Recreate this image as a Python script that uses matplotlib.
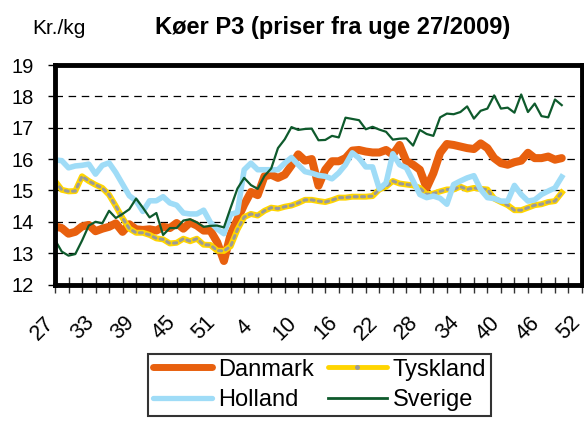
import matplotlib
matplotlib.use("Agg")
import matplotlib.pyplot as plt
from matplotlib.lines import Line2D
from matplotlib.transforms import ScaledTranslation
import numpy as np

plt.rcParams['font.family'] = ['Liberation Sans', 'DejaVu Sans']
plt.rcParams['savefig.bbox'] = 'standard'

# Weeks 27/2009 .. 49/2010 (2009 has 53 weeks); index = weeks since 27/2009
tick_labels = ['27', '33', '39', '45', '51', '4', '10', '16', '22', '28', '34', '40', '46', '52']

danmark = [13.85, 13.8, 13.62, 13.68, 13.85, 13.9, 13.7, 13.78, 13.84, 13.95,
           13.68, 13.92, 13.76, 13.74, 13.76, 13.72, 13.84, 13.8, 13.96, 13.78,
           13.98, 13.88, 13.72, 13.72, 13.35, 12.75, 13.6, 14.08, 14.55, 14.95,
           14.85, 15.45, 15.5, 15.4, 15.5, 15.8, 16.15, 15.95, 16.0, 15.15,
           15.66, 15.93, 15.93, 16.03, 16.27, 16.29, 16.24, 16.21, 16.21, 16.29,
           16.14, 16.45, 15.93, 15.82, 15.66, 15.08, 15.55, 16.2, 16.48, 16.45,
           16.4, 16.35, 16.32, 16.5, 16.35, 16.03, 15.87, 15.82, 15.9, 15.95,
           16.2, 16.03, 16.03, 16.08, 15.98, 16.03]

tyskland = [15.3, 15.02, 14.97, 14.98, 15.45, 15.3, 15.18, 15.08, 14.86, 14.5,
            14.12, 13.78, 13.65, 13.65, 13.58, 13.47, 13.44, 13.31, 13.33, 13.46,
            13.38, 13.46, 13.27, 13.26, 13.08, 13.07, 13.22, 13.75, 14.15, 14.25,
            14.2, 14.35, 14.45, 14.42, 14.48, 14.52, 14.6, 14.7, 14.7, 14.66,
            14.63, 14.69, 14.77, 14.77, 14.8, 14.8, 14.8, 14.82, 15.03, 15.12,
            15.3, 15.22, 15.19, 15.16, 15.08, 14.87, 14.9, 14.97, 15.03, 15.03,
            15.12, 15.03, 15.08, 15.05, 15.03, 14.74, 14.63, 14.53, 14.37, 14.37,
            14.45, 14.53, 14.56, 14.63, 14.66, 14.93]

holland = [15.97, 15.95, 15.72, 15.78, 15.8, 15.84, 15.52, 15.8, 15.88, 15.57,
           15.2, 14.83, 14.67, 14.33, 14.67, 14.67, 14.8, 14.6, 14.53, 14.28,
           14.25, 14.25, 14.37, 13.98, 13.77, 13.62, 14.24, 14.3, 15.66, 15.87,
           15.66, 15.66, 15.66, 15.66, 15.87, 16.05, 15.82, 15.6, 15.55, 15.48,
           15.45, 15.37, 15.56, 15.82, 16.2, 16.03, 15.75, 15.75, 15.05, 15.24,
           16.17, 15.82, 15.72, 15.3, 14.87, 14.77, 14.82, 14.75, 14.56, 15.19,
           15.3, 15.4, 15.47, 15.03, 14.77, 14.74, 14.66, 14.66, 15.16, 14.87,
           14.66, 14.7, 14.87, 14.98, 15.08, 15.43]

sverige = [13.42, 13.05, 12.92, 12.97, 13.4, 13.88, 14.0, 13.95, 14.35, 14.12,
           14.25, 14.4, 14.74, 14.45, 14.14, 14.28, 13.58, 13.8, 13.8, 14.04,
           14.08, 13.98, 13.84, 13.87, 13.88, 13.82, 14.45, 15.06, 15.4, 15.17,
           15.05, 15.46, 15.7, 16.35, 16.63, 17.02, 16.93, 16.96, 16.97, 16.6,
           16.61, 16.74, 16.69, 17.32, 17.28, 17.24, 16.95, 17.03, 16.94, 16.87,
           16.62, 16.65, 16.66, 16.43, 16.93, 16.8, 16.74, 17.33, 17.45, 17.43,
           17.5, 17.68, 17.29, 17.54, 17.61, 18.03, 17.61, 17.64, 17.48, 18.06,
           17.5, 17.77, 17.37, 17.33, 17.9, 17.72]

x = np.arange(len(danmark))

C_DK = '#E8600E'
C_DE = '#FFD500'
C_DOT = '#9A9A9A'
C_NL = '#9FDCF7'
C_SE = '#0E5A2C'

fig = plt.figure(figsize=(5.84, 4.28), dpi=100)
ax = fig.add_axes([55/584, 1-284.5/428, 527/584, (284.5-65)/428])

ax.plot(x, danmark, color=C_DK, lw=5.8, solid_joinstyle='round', solid_capstyle='round', zorder=3)
ax.plot(x, tyskland, color=C_DE, lw=4.3, solid_joinstyle='round', zorder=4)
ax.plot(x, tyskland, color=C_DOT, lw=2.2, linestyle=(0, (1.0, 1.4)),
        dash_capstyle='round', zorder=5)
ax.plot(x, holland, color=C_NL, lw=4.0, solid_joinstyle='round', zorder=6)
ax.plot(x, sverige, color=C_SE, lw=1.6, zorder=7)

ax.set_xlim(0, 78)
ax.set_ylim(12, 19)
ax.set_yticks(range(12, 20))
ax.set_yticklabels([str(v) for v in range(12, 20)], fontsize=14.5)
for v in range(13, 19):
    ax.axhline(v, color='black', lw=0.9, linestyle=(0, (6, 4.5)), zorder=1)

ax.set_xticks(np.arange(0, 79, 6))
ax.set_xticks(np.arange(0, 79, 2), minor=True)
ax.set_xticklabels(tick_labels, fontsize=15.5, rotation=45, ha='center', va='center')
ax.tick_params(axis='x', which='both', direction='inout', length=11, width=1.0,
               color='#333333', pad=0)
ax.tick_params(axis='y', direction='out', length=5, width=1.0, pad=10)
# label centres ~13 px left of the tick and ~43 px below the axis line
offset = ScaledTranslation(-13/100, -36/100, fig.dpi_scale_trans)
for lab in ax.get_xticklabels():
    lab.set_transform(lab.get_transform() + offset)

for s in ax.spines.values():
    s.set_linewidth(3.5)
    s.set_color('black')
    s.set_zorder(10)

fig.text(333/584, 1-34/428, 'Køer P3 (priser fra uge 27/2009)', ha='center',
         va='baseline', fontsize=17, fontweight='bold')
fig.text(32/584, 1-34/428, 'Kr./kg', ha='left', va='baseline', fontsize=15)

h_dk = Line2D([], [], color=C_DK, lw=5.0, solid_capstyle='round')
h_de = (Line2D([], [], color=C_DE, lw=3.5, solid_capstyle='round'),
        Line2D([], [], color=C_DOT, marker='o', markersize=2.5, ls='none'))
h_nl = Line2D([], [], color=C_NL, lw=3.8, solid_capstyle='round')
h_se = Line2D([], [], color=C_SE, lw=2.0)
leg = fig.legend([h_dk, h_nl, h_de, h_se], ['Danmark', 'Holland', 'Tyskland', 'Sverige'],
                 loc='upper left', bbox_to_anchor=(148/584, 1-354/428), ncol=2,
                 fontsize=17, frameon=True, fancybox=False, edgecolor='black',
                 handlelength=2.5, handletextpad=0.25, columnspacing=0.6,
                 labelspacing=0.35, borderpad=0.2, borderaxespad=0)
leg.get_frame().set_linewidth(1.5)

fig.savefig('out.png', dpi=100)
